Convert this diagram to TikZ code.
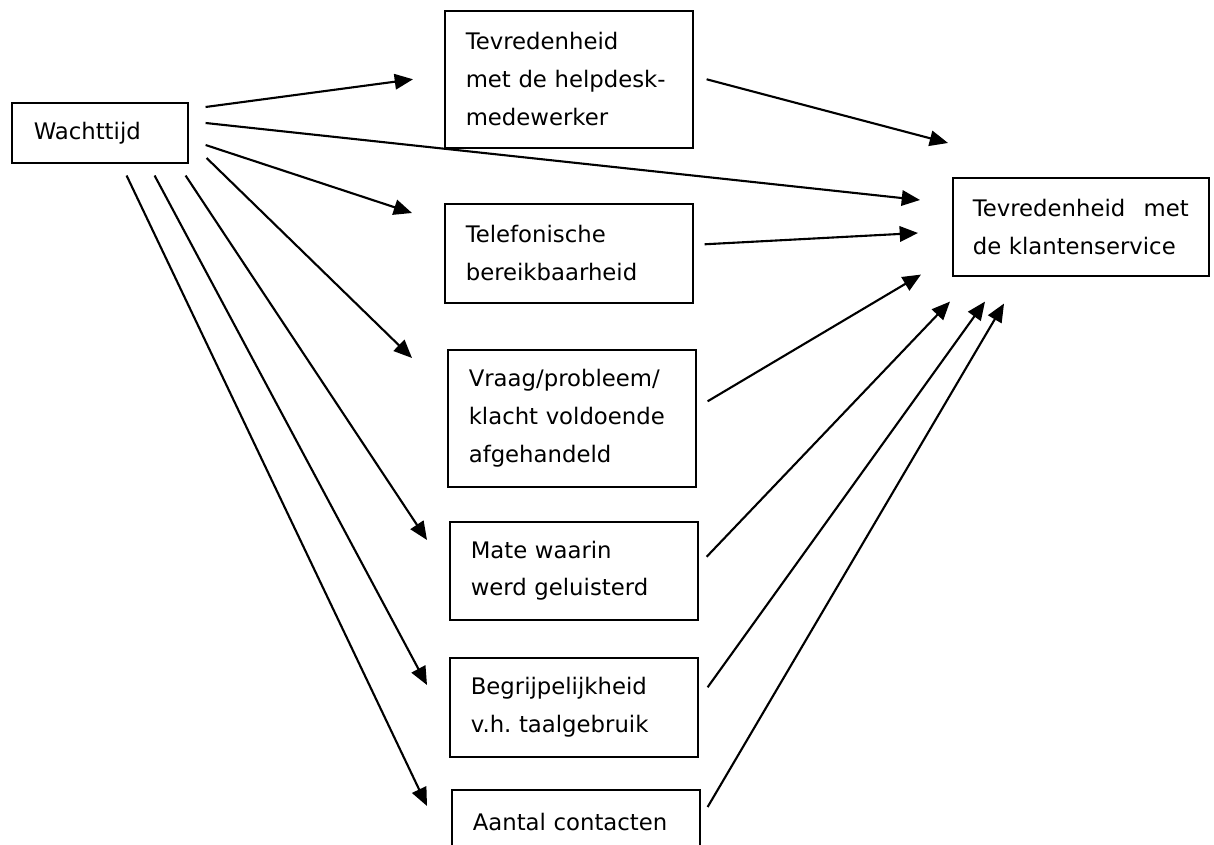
\documentclass[tikz,border=0pt]{standalone}
\usepackage{fontspec}
\setmainfont{DejaVu Sans}
\usetikzlibrary{arrows.meta}

\begin{document}
\begin{tikzpicture}
[x=0.025cm,y=-0.025cm,
factor/.style={shape=rectangle,draw=black,line width=1.1pt,anchor=north west,
  align=left,text width=5.15cm,inner xsep=0.525cm,inner ysep=0pt,
  font=\fontsize{16.2pt}{26.9pt}\selectfont\frenchspacing},
myarrow/.style={line width=1.5pt,-{Triangle[length=13pt,width=11pt]}}]
%%
\useasboundingbox (0,0) rectangle (1214,845);
\clip (0,0) rectangle (1214,845);
%%
\node (wacht) [factor,text width=3.3cm,inner xsep=0.55cm,minimum height=1.5cm] at (11,102) {Wachttijd};
\node (help) [factor,minimum height=3.425cm] at (444,10) {Tevredenheid\\met de helpdesk-\\medewerker};
\node (tel) [factor,minimum height=2.475cm] at (444,203) {Telefonische\\bereikbaarheid};
\node (vraag) [factor,minimum height=3.425cm] at (447,349) {Vraag/probleem/\\klacht voldoende\\afgehandeld};
\node (mate) [factor,minimum height=2.45cm] at (449,521) {Mate waarin\\werd geluisterd};
\node (begrip) [factor,minimum height=2.475cm] at (449,657) {Begrijpelijkheid\\v.h. taalgebruik};
\node (aantal) [factor,minimum height=1.6cm] at (451,789) {Aantal contacten};
\node (klant) [factor,text width=5.4cm,inner xsep=0.5cm,minimum height=2.45cm] at (952,177) {Tevredenheid\hfill met\\de klantenservice};
%%
\draw[myarrow] ([shift={(17,5)}]wacht.north east) -- ([shift={(-31,0)}]help.west);
\draw[myarrow] ([shift={(17,21)}]wacht.north east) -- ([shift={(-32,23)}]klant.north west);
\draw[myarrow] ([shift={(17,43)}]wacht.north east) -- ([shift={(-32,10)}]tel.north west);
\draw[myarrow] ([shift={(18,56)}]wacht.north east) -- ([shift={(-35,9)}]vraag.north west);
\draw[myarrow] ([shift={(-3,12)}]wacht.south east) -- ([shift={(-22,19)}]mate.north west);
\draw[myarrow] ([shift={(-34,12)}]wacht.south east) -- ([shift={(-22,28)}]begrip.north west);
\draw[myarrow] ([shift={(-62,12)}]wacht.south east) -- ([shift={(-24,17)}]aantal.north west);
%%
\draw[myarrow] ([shift={(13,0)}]help.east) -- ([shift={(-4,-34)}]klant.north west);
\draw[myarrow] ([shift={(11,-9)}]tel.east) -- ([shift={(-34,56)}]klant.north west);
\draw[myarrow] ([shift={(11,-17)}]vraag.east) -- ([shift={(-31,-2)}]klant.south west);
\draw[myarrow] ([shift={(8,-14)}]mate.east) -- ([shift={(-2,25)}]klant.south west);
\draw[myarrow] ([shift={(9,-20)}]begrip.east) -- ([shift={(33,25)}]klant.south west);
\draw[myarrow] ([shift={(7,18)}]aantal.north east) -- ([shift={(52,27)}]klant.south west);
%%
\end{tikzpicture}
\end{document}
